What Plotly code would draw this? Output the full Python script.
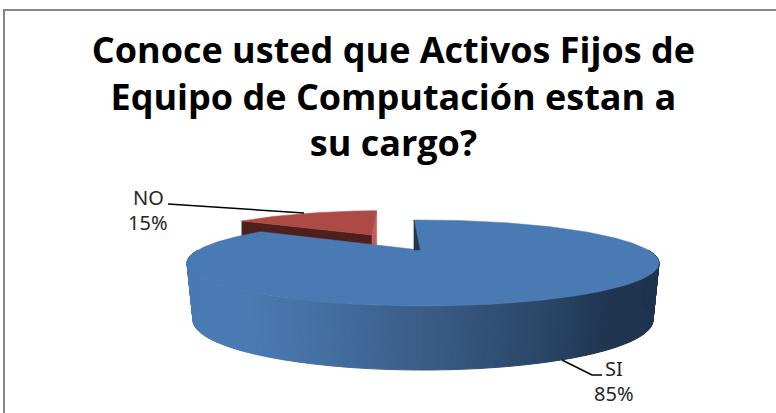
import math
import plotly.graph_objects as go

categories = ["SI", "NO"]
shares = [85, 15]
title_lines = ["Conoce usted que Activos Fijos de", "Equipo de Computación estan a", "su cargo?"]

W, H = 776, 413
CX, CY, RX, RY = 423, 263, 236, 43
PERSP = -0.30
START = -3.0
BCY, BRY, BRX = 320, 50, 230
APEX = (420, 250)
RED_APEX = (372, 235)
RED_SCALE = 0.88
RED_RIM_SHIFT = (10, 2)
TOP_BLUE, TOP_RED = "#4a7ab3", "#ae4a46"
DARK_RED, MID_RED = "#4f1f1d", "#c0605c"
DARK_CUT = "#1f3552"
LABEL_FONT = dict(family="Noto Sans", size=20, color="#262626")


def rim(deg, cx=CX, cy=CY, rx=RX, ry=RY):
    a = math.radians(deg)
    u, v = math.sin(a), -math.cos(a)
    d = 1 + PERSP * v
    return (cx + rx * u * math.sqrt(1 - PERSP ** 2) / d,
            cy + ry * (v + PERSP) / d)


def sweep(a0, a1, n=120):
    return [a0 + (a1 - a0) * i / n for i in range(n + 1)]


def poly(pts, color, width=0.5):
    return go.Scatter(x=[p[0] for p in pts] + [pts[0][0]],
                      y=[p[1] for p in pts] + [pts[0][1]],
                      mode="lines", fill="toself", fillcolor=color,
                      line=dict(color=color, width=width),
                      hoverinfo="skip", showlegend=False)


def mix(c0, c1, t):
    return "rgb(%d,%d,%d)" % tuple(round(a + (b - a) * t) for a, b in zip(c0, c1))


total = sum(shares)
blue_end = START + 360 * shares[0] / total
red_end = blue_end + 360 * shares[1] / total

fig = go.Figure()

# red slice
base_rim = [rim(a) for a in sweep(blue_end, red_end, 40)]
red_rim = [(RED_APEX[0] + (p[0] - APEX[0]) * RED_SCALE + RED_RIM_SHIFT[0],
            RED_APEX[1] + (p[1] - APEX[1]) * RED_SCALE + RED_RIM_SHIFT[1]) for p in base_rim]
drop = 40
fig.add_trace(poly([red_rim[0], RED_APEX, (RED_APEX[0], RED_APEX[1] + drop),
                    (red_rim[0][0], red_rim[0][1] + drop)], DARK_RED))
fig.add_trace(poly([RED_APEX, red_rim[-1], (red_rim[-1][0], red_rim[-1][1] + drop),
                    (RED_APEX[0], RED_APEX[1] + drop)], MID_RED))
fig.add_trace(poly([RED_APEX] + red_rim, TOP_RED))

# blue side wall, as gradient strips along the visible front of the rim
stops = [(0.0, (74, 122, 179)), (0.13, (74, 122, 179)), (0.3, (68, 110, 160)),
         (0.54, (56, 90, 132)), (0.8, (40, 66, 98)), (0.9, (31, 53, 80)), (1.0, (30, 52, 78))]


def wall_color(x):
    t = (x - 187) / (655 - 187)
    for (t0, c0), (t1, c1) in zip(stops, stops[1:]):
        if t <= t1:
            return mix(c0, c1, max(0, (t - t0) / (t1 - t0)))
    return mix(stops[-1][1], stops[-1][1], 0)


wall = sweep(270, 90, 180)
for a, b in zip(wall, wall[1:]):
    p0, p1 = rim(a), rim(b)
    q0, q1 = rim(a, CX, BCY, BRX, BRY), rim(b, CX, BCY, BRX, BRY)
    fig.add_trace(poly([p0, p1, q1, q0], wall_color((p0[0] + p1[0]) / 2), width=1))

# blue top face
blue_rim = [rim(a) for a in sweep(START, blue_end, 240)]
fig.add_trace(poly([APEX] + blue_rim, TOP_BLUE))
fig.add_trace(poly([blue_rim[0], APEX, (blue_rim[0][0], APEX[1])], DARK_CUT))

# leader lines
for xs, ys in (([168, 304], [204, 213]), ([562, 592, 602], [360, 375, 375])):
    fig.add_trace(go.Scatter(x=xs, y=ys, mode="lines", line=dict(color="#000000", width=1.5),
                             hoverinfo="skip", showlegend=False))

label_pos = {"NO": (148, 197, 148, 222), "SI": (614, 368, 614, 393)}
for name, share in zip(categories, shares):
    x0, y0, x1, y1 = label_pos[name]
    fig.add_annotation(x=x0, y=y0, text=name, showarrow=False, font=LABEL_FONT)
    fig.add_annotation(x=x1, y=y1, text=f"{share}%", showarrow=False, font=LABEL_FONT)

fig.update_layout(
    width=W, height=H, margin=dict(l=0, r=0, t=0, b=0),
    paper_bgcolor="white", plot_bgcolor="white", showlegend=False,
    title=dict(text="<br>".join(title_lines), x=0.507, xanchor="center", y=0.848, yanchor="middle",
               font=dict(family="Open Sans", size=36, color="#000000", weight="bold")),
    xaxis=dict(range=[0, W], visible=False, fixedrange=True),
    yaxis=dict(range=[H, 0], visible=False, fixedrange=True),
    shapes=[dict(type="path", xref="x", yref="y",
                 path=f"M 4 {H} L 4 10 L {W} 10",
                 line=dict(color="#868686", width=2))],
)
fig.write_html("out.html", config=dict(displayModeBar=False),
               post_script="document.body.style.margin='0';document.documentElement.style.overflow='hidden';")
